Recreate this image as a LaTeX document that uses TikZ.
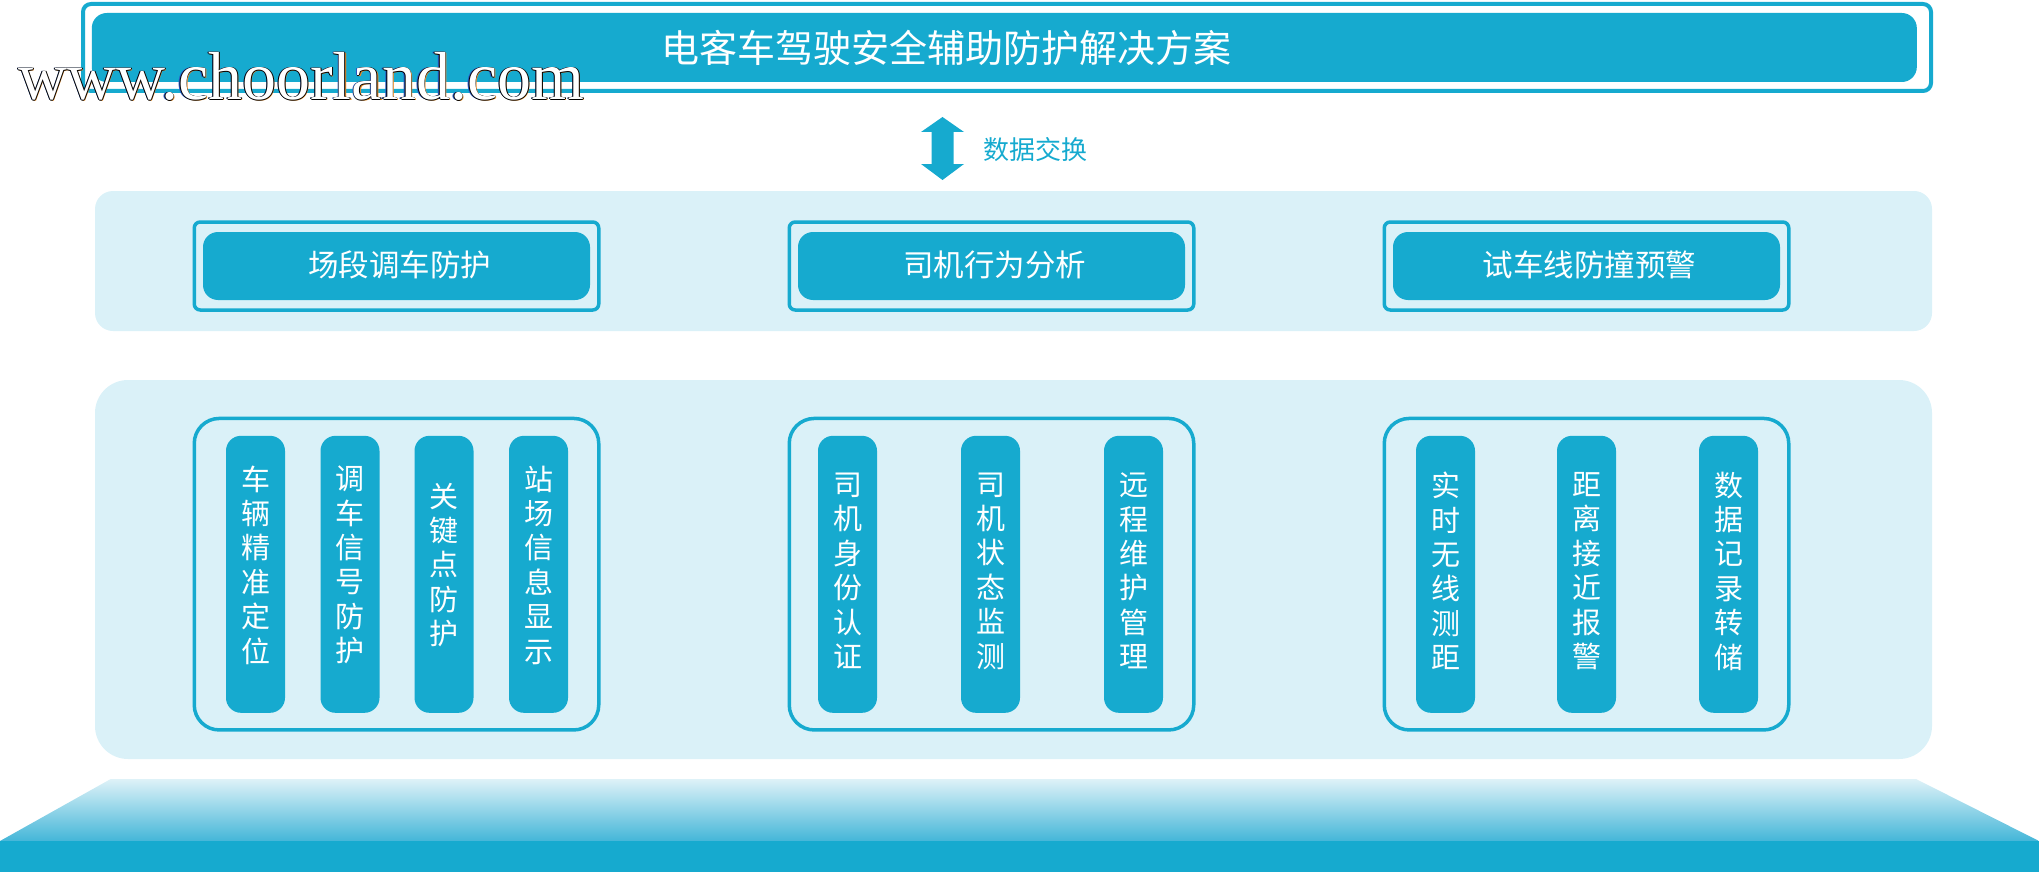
\documentclass[tikz,border=0pt]{standalone}
\usepackage{fontspec}
\setmainfont{Noto Sans CJK SC}
\newfontfamily\wmfont{Liberation Serif}
\definecolor{teal}{RGB}{22,170,207}
\definecolor{lightb}{RGB}{218,241,248}
\definecolor{gradtop}{RGB}{222,242,248}
\definecolor{gradbot}{RGB}{68,182,216}
\definecolor{wmorange}{RGB}{230,140,40}
\definecolor{wmblue}{RGB}{40,90,200}
\tikzset{
  band/.style={fill=lightb, draw=none, inner sep=0pt},
  frame/.style={draw=teal, line width=3.5pt, fill=lightb, inner sep=0pt},
  bar/.style={fill=teal, draw=none, inner sep=0pt, text=white},
  pill/.style={fill=teal, draw=none, inner sep=0pt, minimum width=59pt, minimum height=277pt, rounded corners=15pt},
  pilltext/.style={text=white, align=center, inner sep=0pt, font=\fontsize{29}{34.4}\selectfont},
  boxtext/.style={text=white, inner sep=0pt, font=\fontsize{30.5}{36}\selectfont},
  wm/.style={inner sep=0pt, anchor=base west, font=\wmfont\fontsize{68}{70}\selectfont}
}
\begin{document}
\begin{tikzpicture}[x=1pt,y=-1pt]
\useasboundingbox (0,0) rectangle (2039,872);
% top frame
\node[name=topouter, draw=teal, line width=4pt, fill=white, rounded corners=8pt, minimum width=1848pt, minimum height=87pt, inner sep=0pt] at (1007,47.5) {};
\node[name=topbar, bar, rounded corners=15pt, minimum width=1825pt, minimum height=69pt] at (1004.3,47.5) {};
\node[name=title, text=white, inner sep=0pt, font=\fontsize{38}{46}\selectfont] at (946,48) {电客车驾驶安全辅助防护解决方案};
% arrow
\fill[teal] (942.5,117) -- (964,132) -- (953.5,132) -- (953.5,164) -- (964,164) -- (942.5,180) -- (921,164) -- (931.5,164) -- (931.5,132) -- (921,132) -- cycle;
\node[name=xchg, text=teal, anchor=west, inner sep=0pt, font=\fontsize{26}{30}\selectfont] at (983,150) {数据交换};
% middle band
\node[name=midband, band, rounded corners=18pt, minimum width=1837pt, minimum height=140pt] at (1013.5,261) {};
\foreach \cx/\nm/\txt in {396.5/ma/场段调车防护, 991.5/mb/司机行为分析, 1586.5/mc/试车线防撞预警}{
  \node[name=\nm o, frame, rounded corners=6pt, minimum width=404.5pt, minimum height=88pt] at (\cx,266) {};
  \node[name=\nm i, bar, rounded corners=15pt, minimum width=387pt, minimum height=68pt] at (\cx,266) {};
  \node[name=\nm t, boxtext] at (\cx+3,265) {\txt};
}
% lower band
\node[name=lowband, band, rounded corners=33pt, minimum width=1837pt, minimum height=379pt] at (1013.5,569.5) {};
\foreach \cx/\nm in {396.5/ga, 991.5/gb, 1586.5/gc}{
  \node[name=\nm, frame, rounded corners=25pt, minimum width=404.5pt, minimum height=311.5pt] at (\cx,574.2) {};
}
% pills group 1
\foreach \cx/\nm/\txt in {255.5/p1/{车\\辆\\精\\准\\定\\位}, 350/p2/{调\\车\\信\\号\\防\\护}, 444/p3/{关\\键\\点\\防\\护}, 538.5/p4/{站\\场\\信\\息\\显\\示}}{
  \node[name=\nm, pill] at (\cx,574.3) {};
  \node[name=\nm t, pilltext] at (\cx,565) {\txt};
}
% pills group 2 and 3
\foreach \cx/\nm/\txt in {847.5/p5/{司\\机\\身\\份\\认\\证}, 990.5/p6/{司\\机\\状\\态\\监\\测}, 1133.5/p7/{远\\程\\维\\护\\管\\理}, 1445.5/p8/{实\\时\\无\\线\\测\\距}, 1586.5/p9/{距\\离\\接\\近\\报\\警}, 1728.5/p10/{数\\据\\记\\录\\转\\储}}{
  \node[name=\nm, pill] at (\cx,574.3) {};
  \node[name=\nm t, pilltext] at (\cx,571) {\txt};
}
% bottom platform
\shade[top color=gradtop, bottom color=gradbot] (110.7,779) -- (1916,779) -- (2039,841) -- (0,841) -- cycle;
\fill[teal] (0,841) rectangle (2039,872);
% watermark
\node[name=wmo, wm, text=wmorange] at (19.4,101) {www.choorland.com};
\node[name=wmb, wm, text=wmblue] at (16.8,100) {www.choorland.com};
\node[name=wmk1, wm, text=black] at (18.8,100) {www.choorland.com};
\node[name=wmk2, wm, text=black] at (17.2,100) {www.choorland.com};
\node[name=wmk3, wm, text=black] at (18,100.8) {www.choorland.com};
\node[name=wmk4, wm, text=black] at (18,99.2) {www.choorland.com};
\node[name=wmw, wm, text=white] at (18,100) {www.choorland.com};
\end{tikzpicture}
\end{document}
